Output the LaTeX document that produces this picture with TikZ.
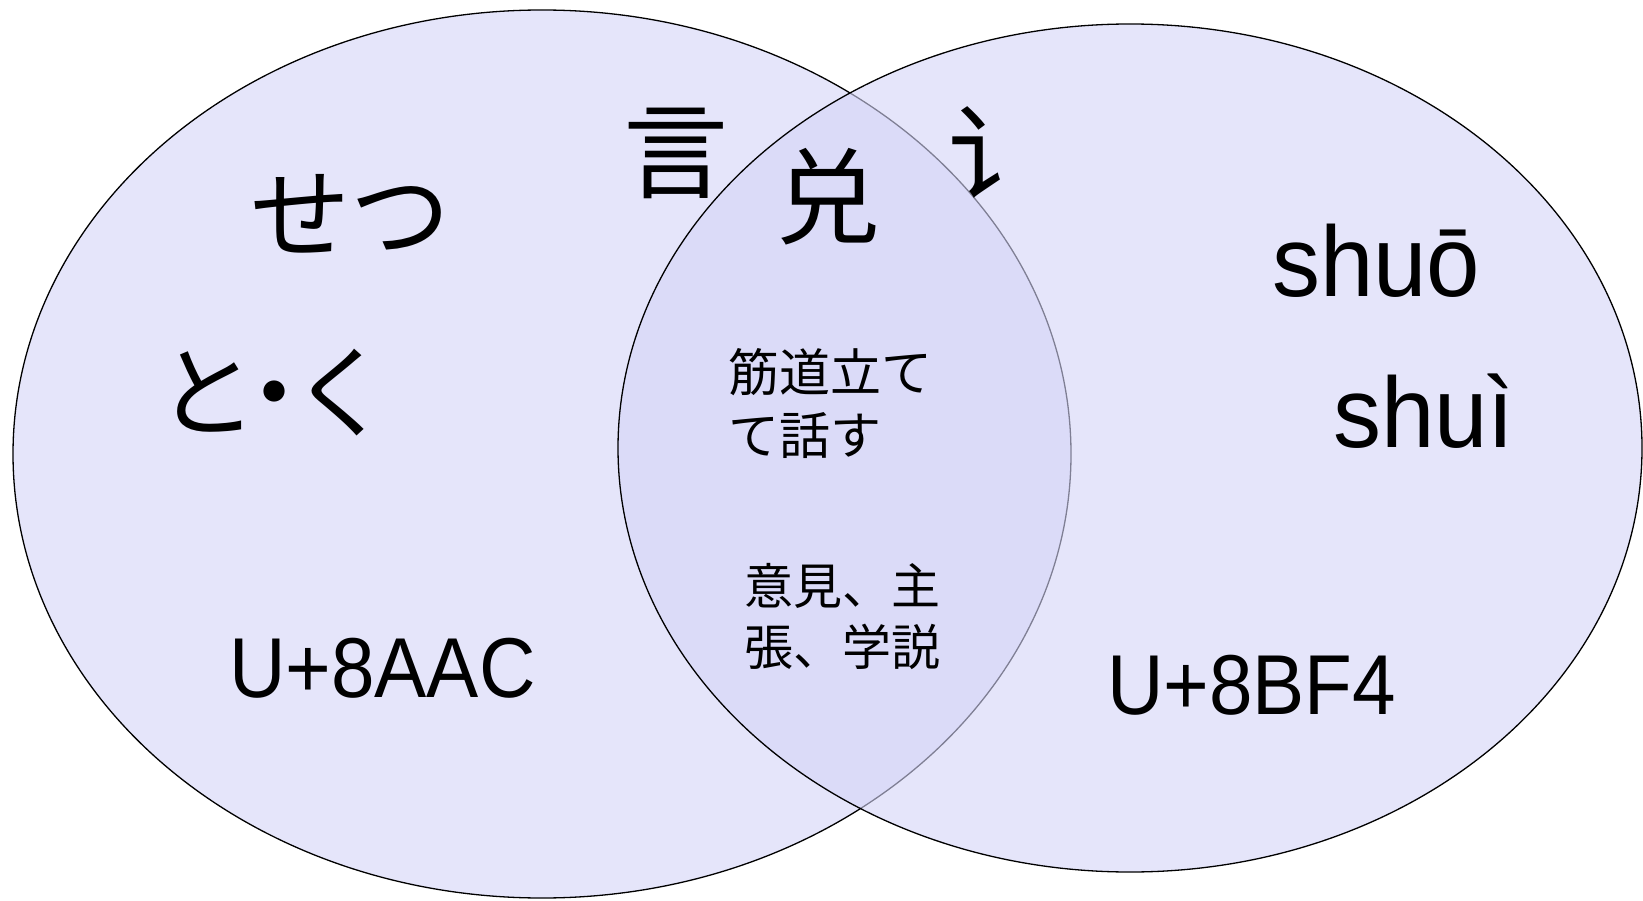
\documentclass[tikz,border=0pt]{standalone}
\usepackage{fontspec}
\newfontfamily\jpf{Noto Sans CJK JP}
\newfontfamily\scf{Noto Sans CJK SC}
\newfontfamily\latf[FakeStretch=0.92]{Liberation Sans}
\newfontfamily\pinf[FakeStretch=0.96]{Liberation Sans}
\definecolor{vennfill}{RGB}{213,213,248}
\tikzset{
  venn/.style={draw=black, line width=1.3pt, fill=vennfill, fill opacity=0.6},
  big/.style={inner sep=0pt, text=black, font=\jpf\fontsize{100}{110}\selectfont},
  kanji/.style={inner sep=0pt, text=black, font=\jpf\fontsize{105}{115}\selectfont},
  hanzi/.style={inner sep=0pt, text=black, font=\scf\fontsize{105}{115}\selectfont},
  pinyin/.style={inner sep=0pt, text=black, font=\pinf\fontsize{100}{110}\selectfont},
  code/.style={inner sep=0pt, text=black, font=\latf\fontsize{85}{95}\selectfont},
  gloss/.style={inner sep=0pt, text=black, align=left}
}
\begin{document}
\begin{tikzpicture}[x=1pt,y=-1pt]
\useasboundingbox (0,0) rectangle (1643,901);
\fill[white] (0,0) rectangle (1643,901);
\path[venn] (542,454) ellipse [x radius=529, y radius=444];
\path[venn] (1130,448) ellipse [x radius=512, y radius=424];
\node[big] (setsu) at (350,214) {せつ};
\node[big] (toku) at (274,393) {と\kern-0.33em・\kern-0.33emく};
\node[kanji] (gen) at (676,153) {言};
\node[hanzi] (dui) at (828,197) {兑};
\node[hanzi, anchor=west] (yan) at (948,152) {讠};
\node[pinyin, anchor=base west] (shuo) at (1272,296) {shuō};
\node[pinyin, anchor=base west] (shui) at (1333,447) {shuì};
\node[code, anchor=base west] (ucodea) at (229,697) {U+8AAC};
\node[code, anchor=base west] (ucodeb) at (1107,714) {U+8BF4};
\node[gloss, anchor=north west, font=\jpf\fontsize{51}{63}\selectfont] (glossa) at (728,348) {筋道立て\\て話す};
\node[gloss, anchor=north west, font=\jpf\fontsize{49}{61}\selectfont] (glossb) at (744,563) {意見、主\\張、学説};
\end{tikzpicture}
\end{document}
